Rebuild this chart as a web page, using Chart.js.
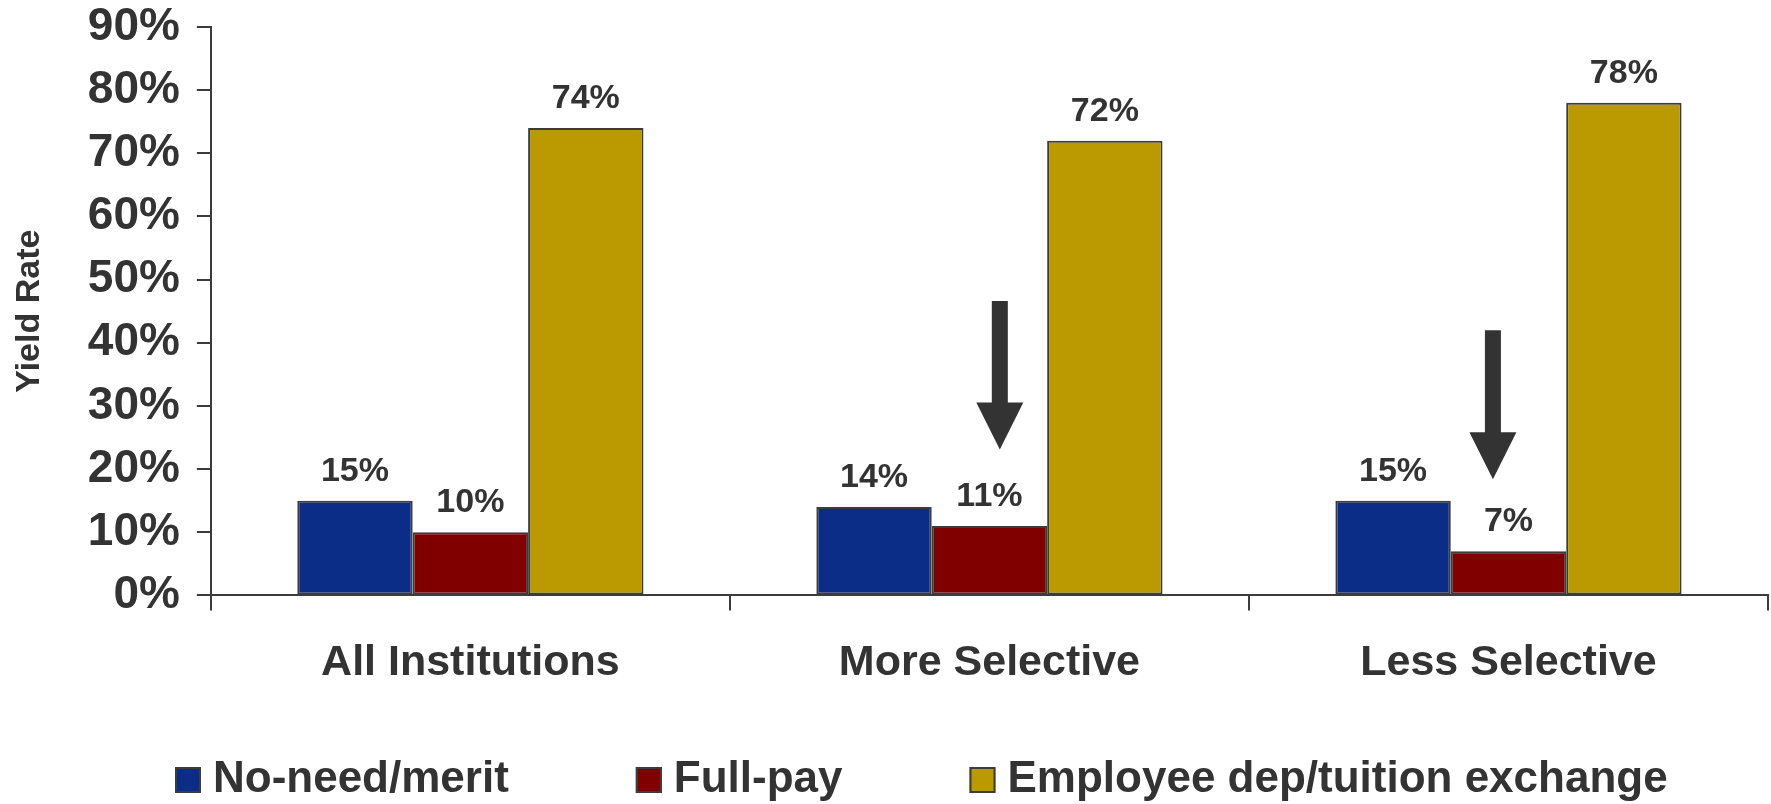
<!DOCTYPE html>
<html>
<head>
<meta charset="utf-8">
<title>Yield Rate by Selectivity</title>
<script src="https://cdn.jsdelivr.net/npm/chart.js@4"></script>
<style>
  body { margin: 0; background: #fff; }
  #wrap { width: 1771px; height: 804px; }
</style>
</head>
<body>
<div id="wrap"><canvas id="yieldChart" width="1771" height="804"></canvas></div>
<script>
const categories = ['All Institutions', 'More Selective', 'Less Selective'];
const seriesNames = ['No-need/merit', 'Full-pay', 'Employee dep/tuition exchange'];
const noNeedMerit = [15, 14, 15];
const fullPay = [10, 11, 7];
const employeeDep = [74, 72, 78];
const yTicks = [0, 10, 20, 30, 40, 50, 60, 70, 80, 90];

// down arrows above the full-pay bars: category position, start %, tip %
const arrowCategory = [1.02, 1.97];
const arrowFrom = [46.6, 42.0];
const arrowTo = [23.1, 18.4];

const textColor = '#333333';
const axisColor = '#3c3c3c';
const fontFamily = "'Liberation Sans', Arial, sans-serif";
const barColors = ['#0c2d87', '#800000', '#bb9900'];

// percent value above each bar
const valueLabels = {
    id: 'valueLabels',
    afterDatasetsDraw(chart) {
        const ctx = chart.ctx;
        ctx.save();
        ctx.font = 'bold 34px ' + fontFamily;
        ctx.fillStyle = textColor;
        ctx.textAlign = 'center';
        ctx.textBaseline = 'alphabetic';
        chart.data.datasets.forEach((ds, i) => {
            chart.getDatasetMeta(i).data.forEach((bar, j) => {
                ctx.fillText(ds.data[j] + '%', bar.x, bar.y - 20);
            });
        });
        ctx.restore();
    }
};

// block arrows pointing down at the full-pay bars
const arrows = {
    id: 'arrows',
    afterDatasetsDraw(chart) {
        const { ctx, scales: { x, y } } = chart;
        const headLen = 47, headHalf = 23.5, shaftHalf = 8;
        ctx.save();
        ctx.fillStyle = '#333333';
        arrowCategory.forEach((c, i) => {
            const cx = x.getPixelForValue(c);
            const top = y.getPixelForValue(arrowFrom[i]);
            const tip = y.getPixelForValue(arrowTo[i]);
            ctx.beginPath();
            ctx.moveTo(cx - shaftHalf, top);
            ctx.lineTo(cx + shaftHalf, top);
            ctx.lineTo(cx + shaftHalf, tip - headLen);
            ctx.lineTo(cx + headHalf, tip - headLen);
            ctx.lineTo(cx, tip);
            ctx.lineTo(cx - headHalf, tip - headLen);
            ctx.lineTo(cx - shaftHalf, tip - headLen);
            ctx.closePath();
            ctx.fill();
        });
        ctx.restore();
    }
};

// legend row along the bottom edge
const bottomLegend = {
    id: 'bottomLegend',
    afterDraw(chart) {
        const ctx = chart.ctx;
        const y = 780;
        let x = 175;
        ctx.save();
        ctx.font = 'bold 44px ' + fontFamily;
        ctx.textAlign = 'left';
        ctx.textBaseline = 'middle';
        chart.data.datasets.forEach(ds => {
            ctx.fillStyle = ds.backgroundColor;
            ctx.fillRect(x, y - 13, 26, 26);
            ctx.strokeStyle = axisColor;
            ctx.lineWidth = 2;
            ctx.strokeRect(x + 1, y - 12, 24, 24);
            ctx.fillStyle = textColor;
            ctx.fillText(ds.label, x + 38, y);
            x += 38 + ctx.measureText(ds.label).width + 127;
        });
        ctx.restore();
    }
};

new Chart('yieldChart', {
    type: 'bar',
    data: {
        labels: categories,
        datasets: [
            { label: seriesNames[0], data: noNeedMerit, backgroundColor: barColors[0] },
            { label: seriesNames[1], data: fullPay, backgroundColor: barColors[1] },
            { label: seriesNames[2], data: employeeDep, backgroundColor: barColors[2] }
        ]
    },
    options: {
        responsive: false,
        animation: false,
        layout: { padding: { top: 27, right: 3, left: 0, bottom: 88 } },
        datasets: {
            bar: {
                categoryPercentage: 0.667,
                barPercentage: 1,
                borderColor: axisColor,
                borderWidth: 2,
                borderSkipped: false
            }
        },
        plugins: {
            legend: { display: false },
            tooltip: { enabled: false }
        },
        scales: {
            x: {
                grid: { drawOnChartArea: false, color: axisColor, lineWidth: 2, tickLength: 15 },
                border: { color: axisColor, width: 2 },
                ticks: {
                    color: textColor,
                    font: { family: fontFamily, size: 43, weight: 'bold' },
                    padding: 27,
                    maxRotation: 0
                }
            },
            y: {
                min: 0,
                max: 90,
                afterBuildTicks: scale => { scale.ticks = yTicks.map(v => ({ value: v })); },
                // the top label may overhang; the layout padding leaves room for it
                afterFit: scale => { scale.paddingTop = 0; scale.paddingBottom = 0; },
                grid: { drawOnChartArea: false, color: axisColor, lineWidth: 2, tickLength: 14 },
                border: { color: axisColor, width: 2 },
                ticks: {
                    color: textColor,
                    font: { family: fontFamily, size: 46, weight: 'bold' },
                    padding: 17,
                    callback: v => v + '%'
                },
                title: {
                    display: true,
                    text: 'Yield Rate',
                    color: textColor,
                    font: { family: fontFamily, size: 34, weight: 'bold' },
                    padding: { top: 9, bottom: 21 }
                }
            }
        }
    },
    plugins: [valueLabels, arrows, bottomLegend]
});
</script>
</body>
</html>
